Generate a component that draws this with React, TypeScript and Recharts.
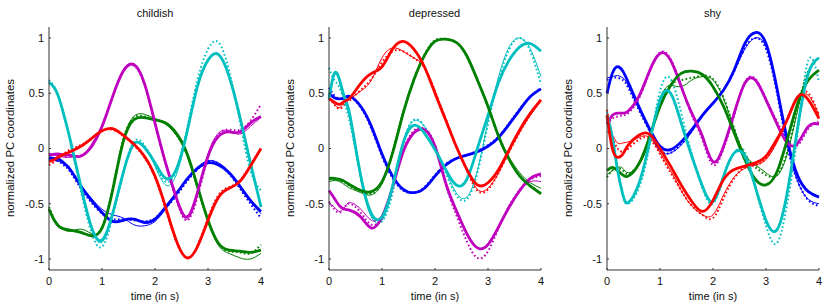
import React from 'react';
import { LineChart, Line, XAxis, YAxis } from 'recharts';

// time grid (s), shared by all panels
const TIMES = [0, 0.1, 0.2, 0.3, 0.4, 0.6, 0.8, 1.0, 1.2, 1.4, 1.6, 1.8, 2.0, 2.2, 2.4, 2.6, 2.8, 3.0, 3.2, 3.4, 3.6, 3.8, 4.0];
const X_TICKS = [0, 1, 2, 3, 4];
const Y_TICKS = [-1, -0.5, 0, 0.5, 1];

// childish
const childishRed = [-0.12, -0.10, -0.07, -0.05, -0.03, 0.02, 0.09, 0.16, 0.18, 0.12, 0.04, -0.07, -0.25, -0.53, -0.83, -0.99, -0.89, -0.65, -0.44, -0.36, -0.30, -0.16, 0.0];
const childishRedDots = [-0.15, -0.12, -0.08, -0.04, -0.01, 0.03, 0.09, 0.16, 0.17, 0.12, 0.03, -0.08, -0.26, -0.55, -0.84, -0.99, -0.88, -0.63, -0.42, -0.35, -0.29, -0.15, 0.0];
const childishCyan = [0.60, 0.55, 0.44, 0.27, 0.08, -0.34, -0.71, -0.83, -0.59, -0.22, 0.04, 0.01, -0.13, -0.27, -0.19, 0.14, 0.56, 0.80, 0.85, 0.65, 0.29, -0.13, -0.53];
const childishCyanThin = [0.60, 0.55, 0.44, 0.27, 0.08, -0.34, -0.72, -0.85, -0.60, -0.22, 0.04, 0.02, -0.16, -0.33, -0.24, 0.12, 0.55, 0.80, 0.86, 0.66, 0.30, -0.12, -0.52];
const childishCyanDots = [0.62, 0.56, 0.44, 0.26, 0.06, -0.38, -0.76, -0.89, -0.62, -0.22, 0.06, 0.03, -0.15, -0.30, -0.20, 0.17, 0.62, 0.90, 0.96, 0.70, 0.25, -0.20, -0.38];
const childishMagenta = [-0.06, -0.05, -0.05, -0.06, -0.06, -0.07, 0.02, 0.20, 0.47, 0.70, 0.76, 0.59, 0.23, -0.13, -0.44, -0.62, -0.40, -0.07, 0.11, 0.15, 0.15, 0.23, 0.29];
const childishMagentaThin = [-0.04, -0.06, -0.07, -0.08, -0.08, -0.07, 0.0, 0.19, 0.47, 0.71, 0.76, 0.58, 0.22, -0.14, -0.46, -0.64, -0.42, -0.05, 0.14, 0.16, 0.13, 0.20, 0.28];
const childishMagentaDots = [-0.05, -0.06, -0.07, -0.07, -0.07, -0.06, 0.02, 0.20, 0.47, 0.70, 0.75, 0.58, 0.22, -0.14, -0.46, -0.65, -0.44, -0.08, 0.13, 0.17, 0.17, 0.25, 0.40];
const childishGreen = [-0.55, -0.65, -0.71, -0.73, -0.74, -0.76, -0.79, -0.72, -0.38, 0.06, 0.26, 0.28, 0.26, 0.23, 0.14, -0.04, -0.34, -0.65, -0.86, -0.92, -0.93, -0.94, -0.92];
const childishGreenThin = [-0.55, -0.66, -0.72, -0.74, -0.75, -0.73, -0.77, -0.73, -0.37, 0.08, 0.29, 0.31, 0.27, 0.22, 0.12, -0.06, -0.36, -0.66, -0.88, -0.95, -0.99, -1.0, -0.95];
const childishGreenDots = [-0.53, -0.64, -0.71, -0.73, -0.74, -0.76, -0.79, -0.71, -0.36, 0.08, 0.28, 0.29, 0.26, 0.23, 0.13, -0.05, -0.35, -0.65, -0.86, -0.93, -0.94, -0.95, -0.87];
const childishBlue = [-0.08, -0.09, -0.10, -0.14, -0.19, -0.34, -0.47, -0.58, -0.66, -0.65, -0.64, -0.67, -0.64, -0.53, -0.41, -0.28, -0.18, -0.13, -0.15, -0.22, -0.34, -0.47, -0.57];
const childishBlueThin = [-0.10, -0.11, -0.12, -0.15, -0.20, -0.33, -0.45, -0.55, -0.60, -0.63, -0.69, -0.70, -0.66, -0.55, -0.42, -0.28, -0.17, -0.11, -0.13, -0.21, -0.34, -0.48, -0.59];
const childishBlueDots = [-0.09, -0.10, -0.12, -0.16, -0.21, -0.36, -0.49, -0.59, -0.64, -0.64, -0.65, -0.66, -0.63, -0.54, -0.43, -0.30, -0.19, -0.12, -0.14, -0.23, -0.36, -0.50, -0.63];

// depressed
const depressedRed = [0.45, 0.42, 0.40, 0.43, 0.46, 0.59, 0.68, 0.74, 0.90, 0.97, 0.90, 0.74, 0.50, 0.26, 0.02, -0.19, -0.33, -0.31, -0.19, -0.01, 0.17, 0.32, 0.44];
const depressedRedThin = [0.47, 0.40, 0.37, 0.42, 0.45, 0.52, 0.62, 0.82, 0.91, 0.88, 0.82, 0.74, 0.52, 0.27, 0.03, -0.19, -0.37, -0.36, -0.22, -0.03, 0.15, 0.30, 0.43];
const depressedRedDots = [0.45, 0.40, 0.36, 0.40, 0.44, 0.53, 0.63, 0.78, 0.88, 0.88, 0.82, 0.73, 0.52, 0.27, 0.02, -0.20, -0.38, -0.37, -0.22, -0.03, 0.15, 0.31, 0.45];
const depressedGreen = [-0.27, -0.27, -0.28, -0.30, -0.33, -0.38, -0.39, -0.30, -0.04, 0.32, 0.62, 0.84, 0.97, 0.99, 0.96, 0.84, 0.62, 0.38, 0.11, -0.10, -0.25, -0.34, -0.41];
const depressedGreenThin = [-0.30, -0.29, -0.30, -0.33, -0.36, -0.40, -0.42, -0.32, -0.05, 0.31, 0.61, 0.84, 0.97, 0.99, 0.96, 0.84, 0.63, 0.39, 0.12, -0.08, -0.22, -0.31, -0.36];
const depressedGreenDots = [-0.28, -0.28, -0.29, -0.31, -0.34, -0.39, -0.41, -0.31, -0.03, 0.33, 0.62, 0.85, 0.98, 0.99, 0.96, 0.83, 0.62, 0.38, 0.10, -0.10, -0.25, -0.34, -0.40];
const depressedCyan = [0.45, 0.68, 0.62, 0.45, 0.29, -0.25, -0.59, -0.62, -0.34, 0.05, 0.21, 0.14, -0.01, -0.19, -0.33, -0.28, 0.0, 0.30, 0.60, 0.80, 0.92, 0.95, 0.88];
const depressedCyanThin = [0.45, 0.66, 0.60, 0.42, 0.25, -0.28, -0.62, -0.65, -0.36, 0.06, 0.25, 0.20, 0.02, -0.20, -0.40, -0.44, -0.20, 0.25, 0.65, 0.92, 1.0, 0.90, 0.65];
const depressedCyanDots = [0.73, 0.62, 0.55, 0.40, 0.22, -0.25, -0.60, -0.66, -0.40, 0.05, 0.26, 0.20, 0.02, -0.22, -0.42, -0.46, -0.22, 0.22, 0.62, 0.90, 1.0, 0.88, 0.58];
const depressedMagenta = [-0.38, -0.45, -0.52, -0.55, -0.56, -0.62, -0.72, -0.62, -0.35, -0.03, 0.14, 0.17, 0.02, -0.31, -0.56, -0.77, -0.90, -0.87, -0.71, -0.53, -0.38, -0.27, -0.23];
const depressedMagentaThin = [-0.50, -0.53, -0.57, -0.53, -0.49, -0.55, -0.65, -0.60, -0.35, -0.03, 0.15, 0.17, 0.02, -0.30, -0.55, -0.76, -0.90, -0.86, -0.70, -0.52, -0.38, -0.30, -0.30];
const depressedMagentaDots = [-0.48, -0.55, -0.58, -0.53, -0.50, -0.58, -0.69, -0.62, -0.35, -0.02, 0.16, 0.18, 0.03, -0.32, -0.60, -0.84, -0.99, -0.93, -0.72, -0.52, -0.37, -0.28, -0.25];
const depressedBlue = [0.50, 0.46, 0.45, 0.46, 0.47, 0.38, 0.20, -0.05, -0.25, -0.37, -0.40, -0.36, -0.25, -0.15, -0.09, -0.06, -0.03, 0.02, 0.10, 0.22, 0.35, 0.47, 0.54];
const depressedBlueDots = [0.55, 0.48, 0.45, 0.46, 0.47, 0.37, 0.18, -0.07, -0.27, -0.38, -0.40, -0.35, -0.24, -0.14, -0.09, -0.06, -0.02, 0.03, 0.11, 0.23, 0.36, 0.47, 0.55];

// shy
const shyBlue = [0.50, 0.68, 0.74, 0.70, 0.60, 0.38, 0.18, 0.02, -0.01, 0.06, 0.17, 0.30, 0.41, 0.53, 0.71, 0.95, 1.05, 0.95, 0.56, 0.08, -0.25, -0.39, -0.44];
const shyBlueThin = [0.64, 0.65, 0.66, 0.64, 0.57, 0.36, 0.16, -0.02, -0.04, 0.03, 0.15, 0.29, 0.41, 0.53, 0.70, 0.90, 1.0, 0.92, 0.55, 0.05, -0.30, -0.46, -0.50];
const shyBlueDots = [0.62, 0.64, 0.64, 0.62, 0.55, 0.35, 0.16, -0.01, -0.04, 0.04, 0.16, 0.30, 0.41, 0.53, 0.70, 0.91, 1.0, 0.90, 0.52, 0.02, -0.30, -0.47, -0.52];
const shyMagenta = [0.22, 0.30, 0.32, 0.32, 0.34, 0.47, 0.70, 0.86, 0.80, 0.56, 0.32, 0.11, -0.12, 0.02, 0.32, 0.59, 0.62, 0.44, 0.23, 0.05, 0.05, 0.20, 0.22];
const shyMagentaDots = [0.22, 0.27, 0.29, 0.30, 0.32, 0.45, 0.69, 0.87, 0.81, 0.57, 0.30, 0.08, -0.15, 0.0, 0.30, 0.60, 0.63, 0.45, 0.25, 0.08, 0.03, 0.18, 0.24];
const shyGreen = [-0.20, -0.17, -0.20, -0.24, -0.25, -0.14, 0.10, 0.38, 0.57, 0.68, 0.70, 0.67, 0.56, 0.38, 0.14, -0.10, -0.28, -0.33, -0.22, 0.08, 0.41, 0.62, 0.71];
const shyGreenThin = [-0.24, -0.20, -0.17, -0.18, -0.22, -0.15, 0.08, 0.45, 0.57, 0.56, 0.62, 0.65, 0.62, 0.45, 0.18, -0.05, -0.15, -0.22, -0.25, -0.05, 0.35, 0.68, 0.82];
const shyGreenDots = [-0.26, -0.20, -0.18, -0.20, -0.23, -0.14, 0.10, 0.42, 0.58, 0.62, 0.64, 0.66, 0.63, 0.46, 0.18, -0.06, -0.17, -0.24, -0.24, -0.03, 0.38, 0.70, 0.82];
const shyCyan = [0.30, 0.10, -0.20, -0.42, -0.49, -0.32, 0.05, 0.44, 0.50, 0.23, -0.07, -0.34, -0.48, -0.25, -0.04, -0.07, -0.35, -0.65, -0.74, -0.40, 0.20, 0.68, 0.82];
const shyCyanDots = [0.33, 0.12, -0.18, -0.42, -0.50, -0.36, 0.02, 0.52, 0.63, 0.32, -0.05, -0.36, -0.50, -0.26, -0.04, -0.03, -0.35, -0.70, -0.86, -0.50, 0.15, 0.80, 0.60];
const shyRed = [0.30, 0.0, -0.08, -0.05, 0.03, 0.12, 0.13, 0.0, -0.16, -0.33, -0.48, -0.57, -0.47, -0.28, -0.19, -0.16, -0.13, -0.07, 0.08, 0.26, 0.47, 0.44, 0.27];
const shyRedThin = [0.15, 0.12, 0.05, 0.05, 0.06, 0.10, 0.10, -0.04, -0.20, -0.38, -0.52, -0.60, -0.60, -0.42, -0.26, -0.18, -0.15, -0.10, 0.05, 0.25, 0.45, 0.48, 0.30];
const shyRedDots = [0.35, 0.12, 0.0, -0.03, 0.0, 0.08, 0.09, -0.05, -0.22, -0.38, -0.52, -0.60, -0.63, -0.45, -0.27, -0.17, -0.15, -0.09, 0.06, 0.27, 0.47, 0.50, 0.30];

const RED = '#ff0000';
const GREEN = '#008000';
const BLUE = '#0000ff';
const CYAN = '#00bfbf';
const MAGENTA = '#bf00bf';

type Kind = 'thick' | 'thin' | 'dots';
interface Series { key: string; color: string; kind: Kind; values: number[] }

const panels: { title: string; left: number; series: Series[] }[] = [
  {
    title: 'childish',
    left: 0,
    series: [
      { key: 'rd', color: RED, kind: 'dots', values: childishRedDots },
      { key: 'cd', color: CYAN, kind: 'dots', values: childishCyanDots },
      { key: 'md', color: MAGENTA, kind: 'dots', values: childishMagentaDots },
      { key: 'gd', color: GREEN, kind: 'dots', values: childishGreenDots },
      { key: 'bd', color: BLUE, kind: 'dots', values: childishBlueDots },
      { key: 'ct', color: CYAN, kind: 'thin', values: childishCyanThin },
      { key: 'mt', color: MAGENTA, kind: 'thin', values: childishMagentaThin },
      { key: 'gt', color: GREEN, kind: 'thin', values: childishGreenThin },
      { key: 'bt', color: BLUE, kind: 'thin', values: childishBlueThin },
      { key: 'b', color: BLUE, kind: 'thick', values: childishBlue },
      { key: 'g', color: GREEN, kind: 'thick', values: childishGreen },
      { key: 'm', color: MAGENTA, kind: 'thick', values: childishMagenta },
      { key: 'c', color: CYAN, kind: 'thick', values: childishCyan },
      { key: 'r', color: RED, kind: 'thick', values: childishRed },
    ],
  },
  {
    title: 'depressed',
    left: 279.5,
    series: [
      { key: 'rd', color: RED, kind: 'dots', values: depressedRedDots },
      { key: 'gd', color: GREEN, kind: 'dots', values: depressedGreenDots },
      { key: 'cd', color: CYAN, kind: 'dots', values: depressedCyanDots },
      { key: 'md', color: MAGENTA, kind: 'dots', values: depressedMagentaDots },
      { key: 'bd', color: BLUE, kind: 'dots', values: depressedBlueDots },
      { key: 'rt', color: RED, kind: 'thin', values: depressedRedThin },
      { key: 'gt', color: GREEN, kind: 'thin', values: depressedGreenThin },
      { key: 'ct', color: CYAN, kind: 'thin', values: depressedCyanThin },
      { key: 'mt', color: MAGENTA, kind: 'thin', values: depressedMagentaThin },
      { key: 'b', color: BLUE, kind: 'thick', values: depressedBlue },
      { key: 'm', color: MAGENTA, kind: 'thick', values: depressedMagenta },
      { key: 'c', color: CYAN, kind: 'thick', values: depressedCyan },
      { key: 'g', color: GREEN, kind: 'thick', values: depressedGreen },
      { key: 'r', color: RED, kind: 'thick', values: depressedRed },
    ],
  },
  {
    title: 'shy',
    left: 557.5,
    series: [
      { key: 'bd', color: BLUE, kind: 'dots', values: shyBlueDots },
      { key: 'md', color: MAGENTA, kind: 'dots', values: shyMagentaDots },
      { key: 'gd', color: GREEN, kind: 'dots', values: shyGreenDots },
      { key: 'cd', color: CYAN, kind: 'dots', values: shyCyanDots },
      { key: 'rd', color: RED, kind: 'dots', values: shyRedDots },
      { key: 'bt', color: BLUE, kind: 'thin', values: shyBlueThin },
      { key: 'gt', color: GREEN, kind: 'thin', values: shyGreenThin },
      { key: 'rt', color: RED, kind: 'thin', values: shyRedThin },
      { key: 'b', color: BLUE, kind: 'thick', values: shyBlue },
      { key: 'm', color: MAGENTA, kind: 'thick', values: shyMagenta },
      { key: 'g', color: GREEN, kind: 'thick', values: shyGreen },
      { key: 'c', color: CYAN, kind: 'thick', values: shyCyan },
      { key: 'r', color: RED, kind: 'thick', values: shyRed },
    ],
  },
];

const FONT = '"Liberation Sans", Arial, sans-serif';
const tickStyle = { fontSize: 11, fill: '#111', fontFamily: FONT };

const lineProps = (kind: Kind) => {
  if (kind === 'thick') return { strokeWidth: 2.8 };
  if (kind === 'thin') return { strokeWidth: 1 };
  return { strokeWidth: 2, strokeDasharray: '1.6 2.4' };
};

const Panel = ({ title, left, series }: { title: string; left: number; series: Series[] }) => {
  const data = TIMES.map((t, i) => {
    const row: Record<string, number> = { t };
    series.forEach((s) => { row[s.key] = s.values[i]; });
    return row;
  });

  return (
    <div style={{ position: 'absolute', left, top: 0, width: 270, height: 303 }}>
      <div style={{ position: 'absolute', left: 49, width: 212, top: 7, textAlign: 'center', fontFamily: FONT, fontSize: 11, color: '#111' }}>
        {title}
      </div>
      <div style={{ position: 'absolute', left: 10, top: 148, width: 0, height: 0, whiteSpace: 'nowrap' }}>
        <div style={{ transform: 'translate(-50%, -50%) rotate(-90deg)', position: 'absolute', fontFamily: FONT, fontSize: 11.5, color: '#111' }}>
          normalized PC coordinates
        </div>
      </div>
      <LineChart width={270} height={303} data={data} margin={{ top: 27, right: 9, bottom: 0, left: 9 }}>
        <XAxis
          dataKey="t"
          type="number"
          domain={[0, 4]}
          ticks={X_TICKS}
          height={33}
          stroke="#333"
          tickSize={-2}
          tickMargin={9}
          tick={tickStyle}
          label={{ value: 'time (in s)', position: 'insideBottom', offset: 3, style: { fontSize: 11, fill: '#111', fontFamily: FONT } }}
        />
        <YAxis
          type="number"
          domain={[-1.1, 1.1]}
          ticks={Y_TICKS}
          width={40}
          stroke="#333"
          tickSize={-2}
          tickMargin={7}
          tick={tickStyle}
          allowDataOverflow
        />
        {series.map((s) => (
          <Line
            key={s.key}
            dataKey={s.key}
            type="natural"
            stroke={s.color}
            dot={false}
            activeDot={false}
            isAnimationActive={false}
            {...lineProps(s.kind)}
          />
        ))}
      </LineChart>
    </div>
  );
};

export default function App() {
  return (
    <div style={{ position: 'absolute', left: 0, top: 0, width: 830, height: 303, background: '#fff' }}>
      {panels.map((p) => (
        <Panel key={p.title} title={p.title} left={p.left} series={p.series} />
      ))}
    </div>
  );
}
